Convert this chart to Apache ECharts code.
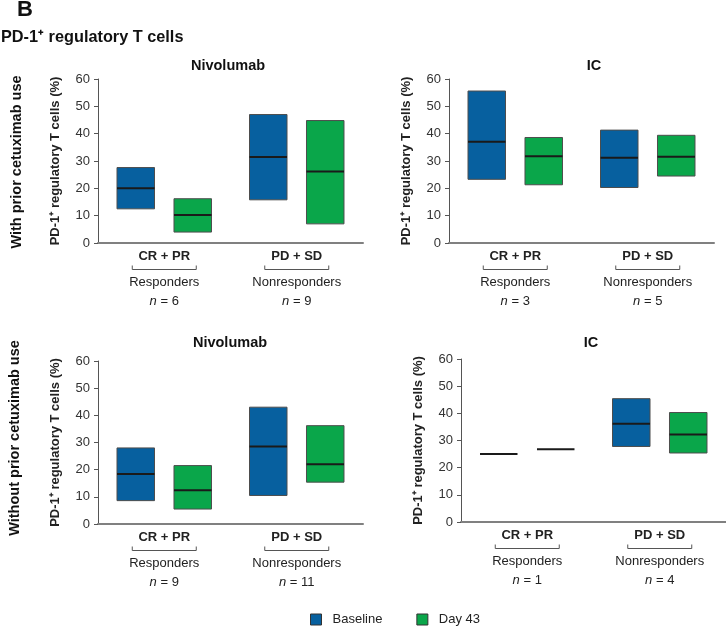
<!DOCTYPE html>
<html>
<head>
<meta charset="utf-8">
<script src="https://cdn.jsdelivr.net/npm/echarts@6/dist/echarts.min.js"></script>
<style>
html,body{margin:0;padding:0;background:#fff;}
#chart{width:726px;height:628px;}
</style>
</head>
<body>
<div id="chart"></div>
<script>
// ---------- data ----------
const categories = ['CR + PR', 'PD + SD'];
const groupLabels = ['Responders', 'Nonresponders'];
const panelTitles = ['Nivolumab', 'IC', 'Nivolumab', 'IC'];
const rowLabels = ['With prior cetuximab use', 'Without prior cetuximab use'];
const seriesNames = ['Baseline', 'Day 43'];
const yAxisName = 'PD-1\u207A regulatory T cells (%)';
const yMin = 0, yMax = 60, yStep = 10;

// n per group
const nPriorNivo = [6, 9];
const nPriorIC = [3, 5];
const nNoPriorNivo = [9, 11];
const nNoPriorIC = [1, 4];

// [low, median, high] per category
const priorNivoBaseline = [[12.5, 20.0, 27.6], [15.8, 31.5, 47.0]];
const priorNivoDay43   = [[4.0, 10.2, 16.2], [7.0, 26.2, 44.8]];
const priorICBaseline  = [[23.3, 37.0, 55.6], [20.3, 31.2, 41.3]];
const priorICDay43     = [[21.3, 31.7, 38.6], [24.5, 31.6, 39.4]];
const noPriorNivoBaseline = [[8.6, 18.4, 28.0], [10.5, 28.5, 43.0]];
const noPriorNivoDay43   = [[5.5, 12.4, 21.5], [15.4, 22.0, 36.2]];
const noPriorICBaseline  = [[25.0, 25.0, 25.0], [27.8, 36.2, 45.4]];
const noPriorICDay43     = [[26.8, 26.8, 26.8], [25.4, 32.2, 40.3]];

// ---------- styling ----------
const FONT = 'Arial, "Liberation Sans", Helvetica, sans-serif';
const BLUE = '#07609f';
const GREEN = '#0aa64a';

const panels = [
  { grid: { left: 98, top: 79, width: 265, height: 164 }, n: nPriorNivo, base: priorNivoBaseline, d43: priorNivoDay43 },
  { grid: { left: 449, top: 79, width: 265, height: 164 }, n: nPriorIC, base: priorICBaseline, d43: priorICDay43 },
  { grid: { left: 98, top: 361, width: 265, height: 163 }, n: nNoPriorNivo, base: noPriorNivoBaseline, d43: noPriorNivoDay43 },
  { grid: { left: 461, top: 359, width: 265, height: 163 }, n: nNoPriorIC, base: noPriorICBaseline, d43: noPriorICDay43 }
];

function toData(arr) {
  return arr.map((v, i) => [i, v[0], v[1], v[2]]);
}

function boxRenderer(sign, fill) {
  return function (params, api) {
    const c = api.value(0);
    const lo = api.coord([c, api.value(1)]);
    const md = api.coord([c, api.value(2)]);
    const hi = api.coord([c, api.value(3)]);
    const band = api.size([1, 0])[0];
    const w = band * 0.283;
    const cx = lo[0] + sign * band * 0.215;
    const x0 = cx - w / 2;
    const children = [];
    if (lo[1] - hi[1] > 0.5) {
      children.push({
        type: 'rect',
        shape: { x: x0, y: hi[1], width: w, height: lo[1] - hi[1] },
        style: { fill: fill, stroke: '#4d4d4d', lineWidth: 1 }
      });
    }
    children.push({
      type: 'line',
      shape: { x1: x0, y1: md[1], x2: x0 + w, y2: md[1] },
      style: { stroke: '#1a1a1a', lineWidth: 2 }
    });
    return { type: 'group', children: children };
  };
}

function annotRenderer(nArr) {
  return function (params, api) {
    const c = api.value(0);
    const p = api.coord([c, yMin]);
    const hw = 32;
    return {
      type: 'group',
      children: [
        {
          type: 'polyline',
          shape: { points: [[p[0] - hw, p[1] + 22.5], [p[0] - hw, p[1] + 26.5], [p[0] + hw, p[1] + 26.5], [p[0] + hw, p[1] + 22.5]] },
          style: { stroke: '#555', lineWidth: 1, fill: 'none' }
        },
        {
          type: 'text',
          style: { x: p[0], y: p[1] + 39, text: groupLabels[c], align: 'center', verticalAlign: 'middle',
                   fontSize: 13, fontFamily: FONT, fill: '#222' }
        },
        {
          type: 'text',
          style: { x: p[0], y: p[1] + 58, text: '{i|n} = ' + nArr[c], align: 'center', verticalAlign: 'middle',
                   fontSize: 13, fontFamily: FONT, fill: '#222',
                   rich: { i: { fontStyle: 'italic', fontSize: 13, fontFamily: FONT, fill: '#222' } } }
        }
      ]
    };
  };
}

const grids = [], xAxes = [], yAxes = [], series = [];
panels.forEach((p, i) => {
  grids.push(Object.assign({ outerBoundsMode: 'none', containLabel: false }, p.grid));
  xAxes.push({
    type: 'category', gridIndex: i, data: categories,
    axisLine: { lineStyle: { color: '#808080', width: 2 } },
    axisTick: { alignWithLabel: true, length: 5, lineStyle: { color: '#808080', width: 1.5 } },
    axisLabel: { fontSize: 13, fontWeight: 'bold', color: '#222', fontFamily: FONT, margin: 7 },
    splitLine: { show: false }
  });
  yAxes.push({
    type: 'value', gridIndex: i, min: yMin, max: yMax, interval: yStep,
    name: yAxisName, nameLocation: 'middle', nameGap: 36,
    nameTextStyle: { fontSize: 13, fontWeight: 'bold', color: '#222', fontFamily: FONT },
    axisLine: { show: true, lineStyle: { color: '#555', width: 1 } },
    axisTick: { show: true, length: 4, lineStyle: { color: '#555' } },
    axisLabel: { fontSize: 13, color: '#333', fontFamily: FONT, margin: 8 },
    splitLine: { show: false }
  });
  series.push({
    type: 'custom', name: seriesNames[0], xAxisIndex: i, yAxisIndex: i,
    renderItem: boxRenderer(-1, BLUE), data: toData(p.base),
    encode: { x: 0, y: [1, 2, 3] }, itemStyle: { color: BLUE }, silent: true
  });
  series.push({
    type: 'custom', name: seriesNames[1], xAxisIndex: i, yAxisIndex: i,
    renderItem: boxRenderer(1, GREEN), data: toData(p.d43),
    encode: { x: 0, y: [1, 2, 3] }, itemStyle: { color: GREEN }, silent: true
  });
  series.push({
    type: 'custom', name: 'groups' + i, xAxisIndex: i, yAxisIndex: i,
    renderItem: annotRenderer(p.n), data: categories.map((c, k) => [k, yMin]),
    encode: { x: 0, y: 1 }, clip: false, silent: true
  });
});

const titlePos = [[228, 66], [594, 66], [230, 343], [591, 343]];
const graphics = [
  { type: 'text', x: 17, y: 10, style: { text: 'B', fontSize: 22, fontWeight: 'bold', fontFamily: FONT, fill: '#111', align: 'left', verticalAlign: 'middle' } },
  { type: 'text', x: 1, y: 38, style: { text: 'PD-1\u207A regulatory T cells', fontSize: 16.3, fontWeight: 'bold', fontFamily: FONT, fill: '#111', align: 'left', verticalAlign: 'middle' } },
  { type: 'text', x: 17, y: 162, rotation: Math.PI / 2, style: { text: rowLabels[0], fontSize: 14.5, fontWeight: 'bold', fontFamily: FONT, fill: '#111', align: 'center', verticalAlign: 'middle' } },
  { type: 'text', x: 15, y: 438, rotation: Math.PI / 2, style: { text: rowLabels[1], fontSize: 14.5, fontWeight: 'bold', fontFamily: FONT, fill: '#111', align: 'center', verticalAlign: 'middle' } }
];
panelTitles.forEach((t, i) => {
  graphics.push({ type: 'text', x: titlePos[i][0], y: titlePos[i][1],
    style: { text: t, fontSize: 14.5, fontWeight: 'bold', fontFamily: FONT, fill: '#111', align: 'center', verticalAlign: 'middle' } });
});

const chart = echarts.init(document.getElementById('chart'), null, { renderer: 'canvas' });
chart.setOption({
  animation: false,
  backgroundColor: '#fff',
  textStyle: { fontFamily: FONT },
  grid: grids,
  xAxis: xAxes,
  yAxis: yAxes,
  series: series,
  legend: {
    data: [
      { name: seriesNames[0], icon: 'rect', itemStyle: { color: BLUE, borderColor: '#333', borderWidth: 1 } },
      { name: seriesNames[1], icon: 'rect', itemStyle: { color: GREEN, borderColor: '#333', borderWidth: 1 } }
    ],
    left: 310, top: 613, padding: 0,
    itemWidth: 11, itemHeight: 11, itemGap: 34,
    selectedMode: false,
    textStyle: { fontSize: 13, color: '#222', fontFamily: FONT, padding: [0, 0, 0, 6] }
  },
  graphic: graphics
});
</script>
</body>
</html>
